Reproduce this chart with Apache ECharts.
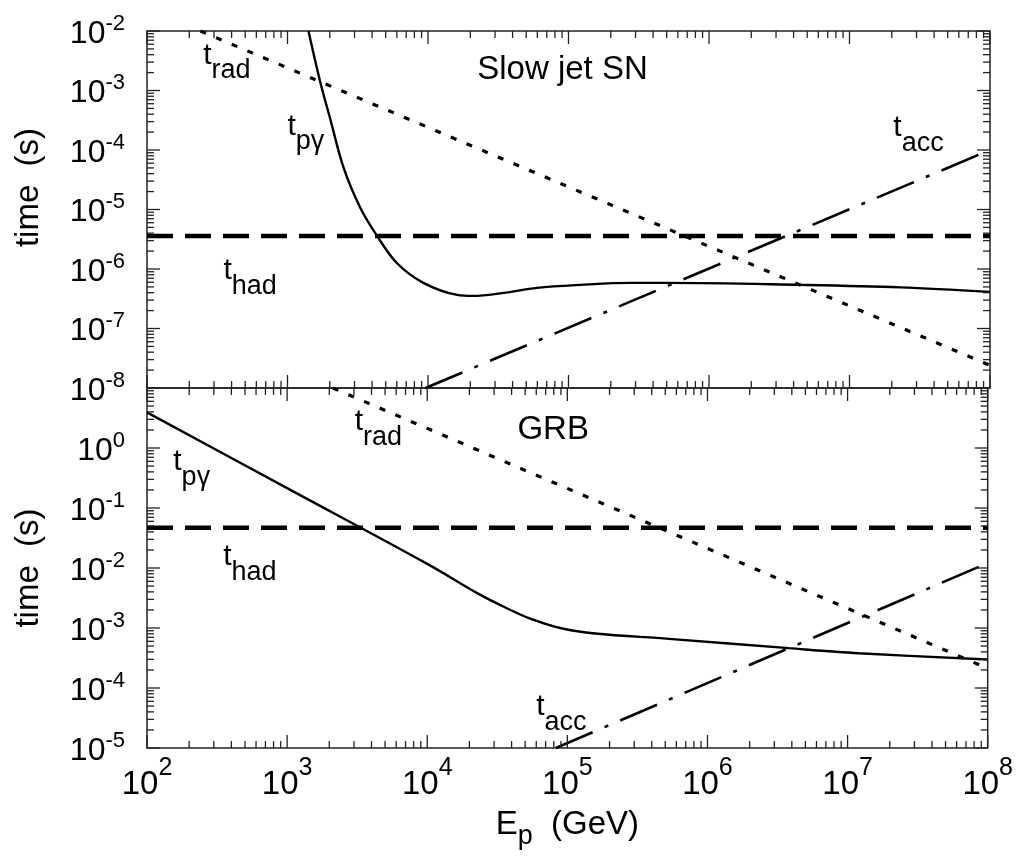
<!DOCTYPE html>
<html><head><meta charset="utf-8">
<script src="https://cdn.jsdelivr.net/npm/echarts@6/dist/echarts.min.js"></script>
<style>html,body{margin:0;padding:0;background:#fff}#c{width:1016px;height:856px}</style>
</head><body><div id="c"></div>
<script>
// ---------- data: top panel (Slow jet SN) ----------
const snPgE  = [1410, 1710, 2000, 2510, 3310, 4340, 6000, 9270, 16100, 21000, 34400, 59700, 121000, 275000, 500000, 4.5e6, 2.3e7, 1e8];
const snPgT  = [1.0e-2, 1.39e-3, 3.55e-4, 5.0e-5, 1.05e-5, 3.6e-6, 1.26e-6, 5.85e-7, 3.67e-7, 3.53e-7, 3.97e-7, 4.82e-7, 5.41e-7, 5.85e-7, 5.85e-7, 5.41e-7, 4.91e-7, 4.12e-7];
const snRadE = [240, 1e8];
const snRadT = [1e-2, 2.4e-8];
const snAccE = [9600, 1e8];
const snAccT = [1e-8, 1e-4];
const snHadE = [100, 1e8];
const snHadT = [3.6e-6, 3.6e-6];
// ---------- data: bottom panel (GRB) ----------
const grbPgE  = [100, 1000, 10000, 23600, 35500, 53700, 92300, 158000, 531000, 3.8e6, 1.2e7, 1e8];
const grbPgT  = [3.92, 0.214, 1.17e-2, 3.63e-3, 2.24e-3, 1.45e-3, 9.8e-4, 8.1e-4, 6.6e-4, 4.61e-4, 3.8e-4, 2.99e-4];
const grbRadE = [2118, 1e8];
const grbRadT = [10, 2.12e-4];
const grbAccE = [82800, 1e8];
const grbAccT = [1e-5, 1.21e-2];
const grbHadE = [100, 1e8];
const grbHadT = [0.047, 0.047];
// ---------- axes / ticks ----------
const xRange = [1e2, 1e8];
const ySnRange = [1e-8, 1e-2];
const yGrbRange = [1e-5, 1e1];
const xDecades = [1e2, 1e3, 1e4, 1e5, 1e6, 1e7, 1e8];
const ySnDecades = [1e-8, 1e-7, 1e-6, 1e-5, 1e-4, 1e-3, 1e-2];
const yGrbDecades = [1e-5, 1e-4, 1e-3, 1e-2, 1e-1, 1e0, 1e1];
const minorMult = [2, 3, 4, 5, 6, 7, 8, 9];
const tickLabelBase = '10';

// ---------- annotations (anchor: left edge / middle of "t") ----------
const snNotes = [
  {text: '{t|t}{s|rad}', at: [251, 3.9e-3]},
  {text: '{t|t}{s|pγ}',  at: [1000, 2.5e-4]},
  {text: '{t|t}{s|had}', at: [350, 9.3e-7]},
  {text: '{t|t}{s|acc}', at: [2.05e7, 2.33e-4]},
  {text: '{p|Slow jet SN}', at: [2.24e4, 2.19e-3]}
];
const grbNotes = [
  {text: '{t|t}{s|pγ}',  at: [154, 0.589]},
  {text: '{t|t}{s|had}', at: [350, 1.53e-2]},
  {text: '{t|t}{s|rad}', at: [3040, 2.74]},
  {text: '{t|t}{s|acc}', at: [6.0e4, 4.8e-5]},
  {text: '{p|GRB}', at: [4.4e4, 2.01]}
];

const FONT = 'Liberation Sans, Arial, Helvetica, sans-serif';
const INK = '#000';
const zip = (a, b) => a.map((v, i) => [v, b[i]]);
const expOf = v => Math.round(Math.log10(v));

function ticksData(decades, yRefX, yRefY, isX) {
  const out = [];
  for (let i = 0; i < decades.length; i++) {
    const d = decades[i];
    out.push(isX ? [d, yRefY, 0, 1] : [yRefX, d, 1, 1]);
    if (i < decades.length - 1) {
      minorMult.forEach(m => {
        const v = m * d;
        out.push(isX ? [v, yRefY, 0, 0] : [yRefX, v, 1, 0]);
      });
    }
  }
  return out;
}

function tickSeries(gi, xDec, yDec, yMin) {
  const data = ticksData(xDec, null, yMin, true).concat(ticksData(yDec, xRange[0], null, false));
  return {
    type: 'custom', xAxisIndex: gi, yAxisIndex: gi, silent: true, z: 5,
    data: data,
    renderItem: function (params, api) {
      const cs = params.coordSys;
      const p = api.coord([api.value(0), api.value(1)]);
      const len = api.value(3) ? 13 : 7;
      const st = {stroke: '#222', lineWidth: 1.3};
      if (api.value(2) === 0) {
        const x = p[0];
        return {type: 'group', children: [
          {type: 'line', shape: {x1: x, y1: cs.y, x2: x, y2: cs.y + len}, style: st},
          {type: 'line', shape: {x1: x, y1: cs.y + cs.height, x2: x, y2: cs.y + cs.height - len}, style: st}
        ]};
      }
      const y = p[1];
      return {type: 'group', children: [
        {type: 'line', shape: {x1: cs.x, y1: y, x2: cs.x + len, y2: y}, style: st},
        {type: 'line', shape: {x1: cs.x + cs.width, y1: y, x2: cs.x + cs.width - len, y2: y}, style: st}
      ]};
    }
  };
}

function lineSeries(gi, data, kind) {
  const s = {type: 'line', xAxisIndex: gi, yAxisIndex: gi, data: data, showSymbol: false, symbol: 'none',
             silent: true, z: 3, lineStyle: {color: '#000', width: 2.4}};
  if (kind === 'solid') { s.smooth = 0.35; }
  if (kind === 'dash') { s.lineStyle = {color: '#000', width: 4.5, type: [26, 12]}; }
  if (kind === 'dot') { s.lineStyle = {color: '#000', width: 3.2, type: [6, 11]}; }
  if (kind === 'dashdot') { s.lineStyle = {color: '#000', width: 2.6, type: [40, 13, 4, 13]}; }
  return s;
}

const noteRich = {
  t: {fontSize: 30, lineHeight: 58, fontFamily: FONT, color: INK},
  s: {fontSize: 27, verticalAlign: 'bottom', fontFamily: FONT, color: INK},
  p: {fontSize: 33, lineHeight: 36, fontFamily: FONT, color: INK}
};
function noteSeries(gi, notes) {
  return {
    type: 'scatter', xAxisIndex: gi, yAxisIndex: gi, symbolSize: 0, silent: true, z: 6,
    data: notes.map(n => ({value: n.at, name: n.text})),
    label: {show: true, position: [0, 0], align: 'left', verticalAlign: 'middle', color: INK, opacity: 1,
            formatter: p => p.name, rich: noteRich}
  };
}

const yRich = {
  b: {fontSize: 32, lineHeight: 43, fontFamily: FONT, color: INK},
  s: {fontSize: 22, verticalAlign: 'top', fontFamily: FONT, color: INK}
};
const xRich = {
  b: {fontSize: 33, lineHeight: 57, fontFamily: FONT, color: INK},
  s: {fontSize: 25, verticalAlign: 'top', fontFamily: FONT, color: INK}
};

function xAxisCfg(gi, showLabels) {
  return {
    type: 'log', logBase: 10, gridIndex: gi, min: xRange[0], max: xRange[1],
    axisLine: {show: false}, axisTick: {show: false}, splitLine: {show: false}, minorTick: {show: false},
    axisLabel: showLabels ? {show: true, margin: 8, rich: xRich,
      formatter: v => '{b|' + tickLabelBase + '}{s|' + expOf(v) + '}'} : {show: false},
    name: showLabels ? '{b|E}{s|p}{b|  (GeV)}' : '',
    nameLocation: 'middle', nameGap: 52,
    nameTextStyle: {rich: {
      b: {fontSize: 33, lineHeight: 50, fontFamily: FONT, color: INK},
      s: {fontSize: 27, verticalAlign: 'bottom', fontFamily: FONT, color: INK}
    }}
  };
}
function yAxisCfg(gi, range, hideTop, namePad) {
  return {
    type: 'log', logBase: 10, gridIndex: gi, min: range[0], max: range[1],
    axisLine: {show: false}, axisTick: {show: false}, splitLine: {show: false}, minorTick: {show: false},
    axisLabel: {show: true, margin: 22, rich: yRich, padding: [6, 0, 0, 0],
      formatter: v => (hideTop && expOf(v) === expOf(range[1])) ? '' : '{b|' + tickLabelBase + '}{s|' + expOf(v) + '}'},
    name: 'time  (s)', nameLocation: 'middle', nameGap: 102,
    nameTextStyle: {fontSize: 33, fontFamily: FONT, color: INK, padding: namePad}
  };
}

const chart = echarts.init(document.getElementById('c'), null, {renderer: 'canvas'});
chart.setOption({
  animation: false,
  backgroundColor: '#fff',
  grid: [
    {left: 147, top: 31, width: 843, height: 357, show: true, borderColor: '#222', borderWidth: 1.5, backgroundColor: 'transparent'},
    {left: 147, top: 388, width: 843, height: 360, show: true, borderColor: '#222', borderWidth: 1.5, backgroundColor: 'transparent'}
  ],
  xAxis: [xAxisCfg(0, false), xAxisCfg(1, true)],
  yAxis: [yAxisCfg(0, ySnRange, false, [0, 0, 0, 44]), yAxisCfg(1, yGrbRange, true, [0, 0, 0, 0])],
  series: [
    lineSeries(0, zip(snHadE, snHadT), 'dash'),
    lineSeries(0, zip(snRadE, snRadT), 'dot'),
    lineSeries(0, zip(snAccE, snAccT), 'dashdot'),
    lineSeries(0, zip(snPgE, snPgT), 'solid'),
    lineSeries(1, zip(grbHadE, grbHadT), 'dash'),
    lineSeries(1, zip(grbRadE, grbRadT), 'dot'),
    lineSeries(1, zip(grbAccE, grbAccT), 'dashdot'),
    lineSeries(1, zip(grbPgE, grbPgT), 'solid'),
    tickSeries(0, xDecades, ySnDecades, ySnRange[0]),
    tickSeries(1, xDecades, yGrbDecades, yGrbRange[0]),
    noteSeries(0, snNotes),
    noteSeries(1, grbNotes)
  ]
});
</script>
</body></html>
